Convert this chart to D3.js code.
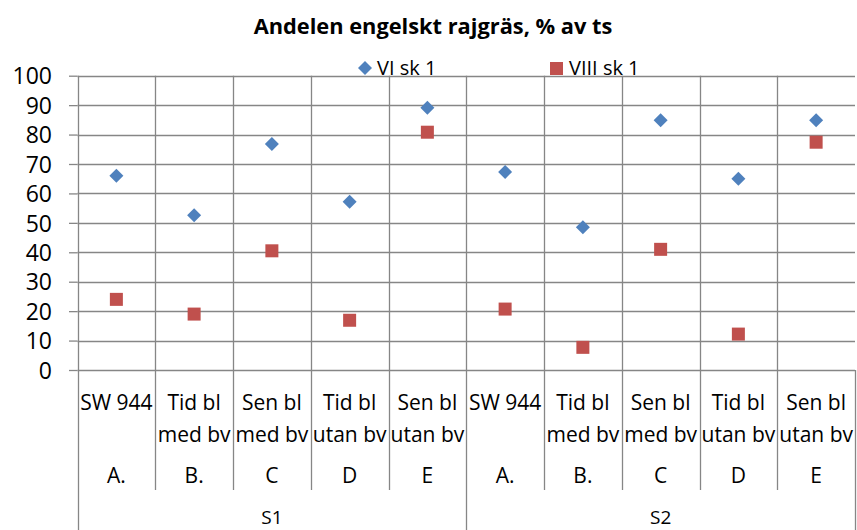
<!DOCTYPE html>
<html><head><meta charset="utf-8">
<script src="https://cdn.jsdelivr.net/npm/d3@7"></script>
<style>
html,body{margin:0;padding:0;background:#fff;}
svg{display:block;font-family:"Open Sans","Noto Sans",sans-serif;}
</style></head>
<body>
<svg id="chart" width="857" height="530"></svg>
<script>
const title = "Andelen engelskt rajgräs, % av ts";
const groups = ["S1", "S2"];
const treatLine1 = ["SW 944", "Tid bl", "Sen bl", "Tid bl", "Sen bl"];
const treatLine2 = ["", "med bv", "med bv", "utan bv", "utan bv"];
const codes = ["A.", "B.", "C", "D", "E"];
const seriesNames = ["VI sk 1", "VIII sk 1"];
const viValues = [66.0, 52.6, 76.8, 57.2, 89.1, 67.3, 48.5, 84.9, 65.0, 84.9];
const viiiValues = [24.0, 19.0, 40.5, 16.9, 80.8, 20.7, 7.7, 41.0, 12.2, 77.4];
const yTicks = [0, 10, 20, 30, 40, 50, 60, 70, 80, 90, 100];

(function () {
const svg = d3.select("#chart");
const W = 857, H = 530;
const pL = 77.5, pR = 855, pT = 75.7, pB = 370;
const gridColor = "#868686";
const blue = "#4F81BD", red = "#C0504D";

const cats = [];
groups.forEach((g, gi) => codes.forEach((c, ci) => cats.push({id: g + "-" + ci, g, gi, ci})));

const x = d3.scaleBand().domain(cats.map(d => d.id)).range([pL, pR]).padding(0);
const y = d3.scaleLinear().domain([0, 100]).range([pB, pT]);

// y axis ticks and labels
const yAxis = d3.axisLeft(y).tickValues(yTicks).tickSize(pL - 69).tickPadding(0).tickFormat(d3.format("d"));
const yg = svg.append("g").attr("transform", `translate(${pL},0)`).call(yAxis);
yg.select(".domain").remove();
yg.selectAll(".tick line").attr("stroke", gridColor).attr("stroke-width", 1.3);
yg.selectAll(".tick text").attr("x", 52 - pL).attr("dy", "0.36em").attr("font-size", 23)
  .attr("fill", "#000").attr("font-family", "Open Sans").attr("text-anchor", "end");

// horizontal gridlines
svg.append("g").selectAll("line").data(yTicks).join("line")
  .attr("x1", pL).attr("x2", pR)
  .attr("y1", d => Math.round(y(d)) + 0.5).attr("y2", d => Math.round(y(d)) + 0.5)
  .attr("stroke", gridColor).attr("stroke-width", 1.3);

// vertical category boundaries
const boundaries = cats.map(d => ({pos: x(d.id), outer: d.ci === 0}));
boundaries.push({pos: pR, outer: true, last: true});
const vg = svg.append("g");
boundaries.forEach(b => {
  const px = Math.round(b.pos) + 0.5;
  if (!b.last) {
    vg.append("line").attr("x1", px).attr("x2", px).attr("y1", pT).attr("y2", pB)
      .attr("stroke", gridColor).attr("stroke-width", 1.3);
  }
  vg.append("line").attr("x1", px).attr("x2", px).attr("y1", pB).attr("y2", b.outer ? H : 490)
    .attr("stroke", gridColor).attr("stroke-width", 1.3);
});

// category labels
const lg = svg.append("g").attr("font-size", 21).attr("fill", "#000").attr("text-anchor", "middle");
cats.forEach(d => {
  const cx = x(d.id) + x.bandwidth() / 2;
  lg.append("text").attr("x", cx).attr("y", 410).text(treatLine1[d.ci]);
  if (treatLine2[d.ci]) lg.append("text").attr("x", cx).attr("y", 442).text(treatLine2[d.ci]);
  lg.append("text").attr("x", cx).attr("y", 483).text(codes[d.ci]);
});
groups.forEach((g, gi) => {
  const ids = cats.filter(d => d.gi === gi).map(d => d.id);
  const cx = (x(ids[0]) + x(ids[ids.length - 1]) + x.bandwidth()) / 2;
  lg.append("text").attr("x", cx).attr("y", 523.5).attr("font-size", 19).text(g);
});

// markers
const cxOf = (i) => x(cats[i].id) + x.bandwidth() / 2;
const diamond = d3.symbol().type(d3.symbolSquare).size(98);
svg.append("g").selectAll("path").data(viValues).join("path")
  .attr("d", diamond)
  .attr("transform", (d, i) => `translate(${cxOf(i)},${y(d)}) rotate(45)`)
  .attr("fill", blue);
const sq = 13;
svg.append("g").selectAll("rect").data(viiiValues).join("rect")
  .attr("x", (d, i) => cxOf(i) - sq / 2).attr("y", d => y(d) - sq / 2)
  .attr("width", sq).attr("height", sq).attr("fill", red);

// title
svg.append("text").attr("x", 433).attr("y", 34).attr("text-anchor", "middle")
  .attr("font-size", 21.8).attr("font-weight", "bold").attr("fill", "#000").text(title);

// legend
const leg = svg.append("g").attr("font-size", 20).attr("fill", "#000");
leg.append("path").attr("d", diamond).attr("transform", "translate(365,68) rotate(45)").attr("fill", blue);
leg.append("text").attr("x", 377).attr("y", 75).text(seriesNames[0]);
leg.append("rect").attr("x", 550).attr("y", 62).attr("width", 13).attr("height", 13).attr("fill", red);
leg.append("text").attr("x", 569).attr("y", 75).text(seriesNames[1]);
})();
</script>
</body></html>
